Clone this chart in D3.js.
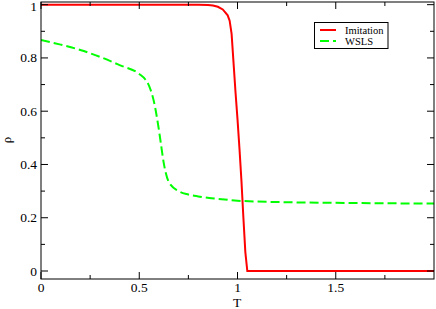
<!DOCTYPE html>
<html>
<head>
<meta charset="utf-8">
<script src="https://cdn.jsdelivr.net/npm/d3@7"></script>
<style>
  body { margin: 0; background: #fff; }
  svg { display: block; }
</style>
</head>
<body>
<div id="chart"></div>
<script>
// data
const imitT   = [0, 0.5, 0.8, 0.85, 0.875, 0.9, 0.925, 0.95, 0.96, 0.97, 0.98, 0.99, 1.0, 1.01, 1.02, 1.03, 1.04, 1.05, 1.5, 2.0];
const imitRho = [1, 1, 1, 0.999, 0.997, 0.992, 0.982, 0.96, 0.94, 0.89, 0.78, 0.67, 0.57, 0.46, 0.34, 0.2, 0.07, 0.0, 0, 0];

const wslsT   = [0, 0.1, 0.2, 0.3, 0.4, 0.5, 0.53, 0.55, 0.575, 0.6, 0.61, 0.625, 0.65, 0.7, 0.75, 0.8, 0.9, 1.0, 1.2, 1.5, 2.0];
const wslsRho = [0.867, 0.85, 0.83, 0.804, 0.773, 0.74, 0.72, 0.695, 0.635, 0.53, 0.479, 0.404, 0.335, 0.300, 0.287, 0.280, 0.271, 0.264, 0.259, 0.256, 0.253];

const xMajor = [0, 0.5, 1, 1.5];
const xMinor = [0.25, 0.75, 1.25, 1.75];
const xLabels = ["0", "0.5", "1", "1.5"];
const yMajor = [0, 0.2, 0.4, 0.6, 0.8, 1];
const yMinor = [0.1, 0.3, 0.5, 0.7, 0.9];
const yLabels = ["0", "0.2", "0.4", "0.6", "0.8", "1"];

const seriesNames = ["Imitation", "WSLS"];
const seriesColors = ["#ff0000", "#00ff00"];

const FONT = "'Liberation Serif', 'Times New Roman', 'DejaVu Serif', serif";

const W = 436, H = 309;
const svg = d3.select("#chart").append("svg")
    .attr("width", W)
    .attr("height", H)
    .attr("font-family", FONT);

const x = d3.scaleLinear().domain([0, 2]).range([41, 434]);
const y = d3.scaleLinear().domain([-0.03, 1.01]).range([279, 2]);

// clip
svg.append("defs").append("clipPath").attr("id", "clip")
    .append("rect")
    .attr("x", x.range()[0]).attr("y", y.range()[1])
    .attr("width", x.range()[1] - x.range()[0])
    .attr("height", y.range()[0] - y.range()[1]);

const plot = svg.append("g").attr("clip-path", "url(#clip)");

const wslsData = wslsT.map((t, i) => [t, wslsRho[i]]);
const imitData = imitT.map((t, i) => [t, imitRho[i]]);

plot.append("path")
    .datum(wslsData)
    .attr("fill", "none")
    .attr("stroke", seriesColors[1])
    .attr("stroke-width", 2)
    .attr("stroke-dasharray", "9,4")
    .attr("d", d3.line().x(d => x(d[0])).y(d => y(d[1])).curve(d3.curveMonotoneX));

plot.append("path")
    .datum(imitData)
    .attr("fill", "none")
    .attr("stroke", seriesColors[0])
    .attr("stroke-width", 2)
    .attr("d", d3.line().x(d => x(d[0])).y(d => y(d[1])));

// frame + inward ticks
const x0 = x.range()[0], x1 = x.range()[1];
const y0 = y.range()[0], y1 = y.range()[1];
const axisG = svg.append("g")
    .attr("stroke", "#000")
    .attr("stroke-width", 1);

axisG.append("rect")
    .attr("x", x0).attr("y", y1)
    .attr("width", x1 - x0).attr("height", y0 - y1)
    .attr("fill", "none");

const major = 7, minor = 4;
xMajor.forEach(v => {
    axisG.append("line").attr("x1", x(v)).attr("x2", x(v)).attr("y1", y0).attr("y2", y0 - major);
    axisG.append("line").attr("x1", x(v)).attr("x2", x(v)).attr("y1", y1).attr("y2", y1 + major);
});
xMinor.forEach(v => {
    axisG.append("line").attr("x1", x(v)).attr("x2", x(v)).attr("y1", y0).attr("y2", y0 - minor);
    axisG.append("line").attr("x1", x(v)).attr("x2", x(v)).attr("y1", y1).attr("y2", y1 + minor);
});
yMajor.forEach(v => {
    axisG.append("line").attr("x1", x0).attr("x2", x0 + major).attr("y1", y(v)).attr("y2", y(v));
    axisG.append("line").attr("x1", x1).attr("x2", x1 - major).attr("y1", y(v)).attr("y2", y(v));
});
yMinor.forEach(v => {
    axisG.append("line").attr("x1", x0).attr("x2", x0 + minor).attr("y1", y(v)).attr("y2", y(v));
    axisG.append("line").attr("x1", x1).attr("x2", x1 - minor).attr("y1", y(v)).attr("y2", y(v));
});

// tick labels
svg.selectAll(".xlab")
    .data(xMajor)
    .enter()
    .append("text")
    .attr("class", "xlab")
    .attr("x", d => x(d))
    .attr("y", 292)
    .attr("text-anchor", "middle")
    .style("font-size", "13.5px")
    .text((d, i) => xLabels[i]);

svg.selectAll(".ylab")
    .data(yMajor)
    .enter()
    .append("text")
    .attr("class", "ylab")
    .attr("x", 37)
    .attr("y", d => Math.max(y(d) + 4.5, 10.5))
    .attr("text-anchor", "end")
    .style("font-size", "13.5px")
    .text((d, i) => yLabels[i]);

// axis titles
svg.append("text")
    .attr("x", 237)
    .attr("y", 306.5)
    .attr("text-anchor", "middle")
    .style("font-size", "13.5px")
    .text("T");

svg.append("text")
    .attr("transform", "translate(11,140) rotate(-90)")
    .attr("text-anchor", "middle")
    .style("font-size", "13px")
    .text("ρ");

// legend
const leg = svg.append("g");
leg.append("rect")
    .attr("x", 314.5).attr("y", 22.5)
    .attr("width", 73.5).attr("height", 26)
    .attr("fill", "#fff")
    .attr("stroke", "#000")
    .attr("stroke-width", 1);

seriesNames.forEach((name, i) => {
    const ly = 30 + i * 11;
    leg.append("line")
        .attr("x1", 320).attr("x2", 336)
        .attr("y1", ly).attr("y2", ly)
        .attr("stroke", seriesColors[i])
        .attr("stroke-width", 2)
        .attr("stroke-dasharray", i === 1 ? "9,4" : null);
    leg.append("text")
        .attr("x", 345)
        .attr("y", ly + 4)
        .style("font-size", "10.5px")
        .text(name);
});
</script>
</body>
</html>
